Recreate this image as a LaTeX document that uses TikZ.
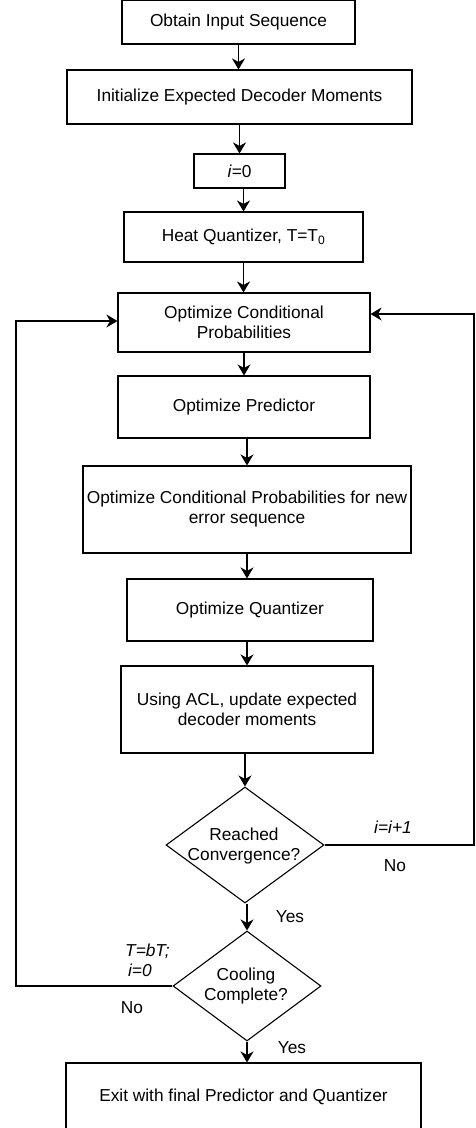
\documentclass[tikz,border=0pt]{standalone}
\usepackage{fontspec}
\setmainfont{Liberation Sans}
\usetikzlibrary{arrows.meta,shapes.geometric}
\newcommand\fsz{\fontsize{17.3}{20}\selectfont}
\begin{document}
\begin{tikzpicture}[x=1pt,y=-1pt,
  box/.style={draw, line width=1.1pt, rectangle, inner sep=0pt, align=center, font=\fsz},
  dia/.style={draw, diamond, line width=1.1pt, inner sep=0pt},
  lbl/.style={font=\fsz, inner sep=0pt, align=center},
  arr/.style={line width=1.1pt, -{Stealth[length=11pt,width=13pt,inset=3.5pt]}}]
\useasboundingbox (0,0) rectangle (475,1128);
\fill[white] (0,0) rectangle (475,1128);

\node[box, minimum width=233pt, minimum height=44pt] (b1) at (238.5,22) {Obtain Input Sequence};
\node[box, minimum width=345pt, minimum height=54pt] (b2) at (239.5,97) {Initialize Expected Decoder Moments};
\node[box, minimum width=91pt, minimum height=34pt] (b3) at (239.5,171) {\textit{i}=0};
\node[box, minimum width=239pt, minimum height=50pt] (b4) at (243.5,237) {Heat Quantizer, T=T\textsubscript{0}};
\node[box, minimum width=252pt, minimum height=59pt] (b5) at (244,322.5) {Optimize Conditional\\Probabilities};
\node[box, minimum width=252pt, minimum height=62pt] (b6) at (244,407) {Optimize Predictor};
\node[box, minimum width=328pt, minimum height=87pt] (b7) at (247,509.5) {Optimize Conditional Probabilities for new\\error sequence};
\node[box, minimum width=246pt, minimum height=62pt] (b8) at (250,610) {Optimize Quantizer};
\node[box, minimum width=252pt, minimum height=87pt] (b9) at (247,709.5) {Using ACL, update expected\\decoder moments};
\node[dia, minimum width=158pt, minimum height=116pt] (d1) at (245,845) {};
\node[lbl] (d1t) at (244,846) {Reached\\Convergence?};
\node[dia, minimum width=148pt, minimum height=110pt] (d2) at (247,986) {};
\node[lbl] (d2t) at (246,986) {Cooling\\Complete?};
\node[box, minimum width=355pt, minimum height=68pt] (b10) at (243.5,1097) {Exit with final Predictor and Quantizer};

\coordinate (rc) at (474,314);
\coordinate (lc) at (16,321);

\draw[arr] (b1.south) -- (b1.south |- b2.north);
\draw[arr] (b2.south) -- (b2.south |- b3.north);
\draw[arr] (b4.north |- b3.south) -- (b4.north);
\draw[arr] (b4.south) -- (b4.south |- b5.north);
\draw[arr] (b5.south) -- (b5.south |- b6.north);
\draw[arr] (b7.north |- b6.south) -- (b7.north);
\draw[arr] (b7.south) -- (b7.south |- b8.north);
\draw[arr] (b9.north |- b8.south) -- (b9.north);
\draw[arr] (d1.north |- b9.south) -- (d1.north);
\draw[arr] (d2.north |- d1.south) -- (d2.north);
\draw[arr] (d2.south) -- (d2.south |- b10.north);
\draw[arr] (d1.east) -| (rc) -- (b5.east |- rc);
\draw[arr] (d2.west) -| (lc) -- (b5.west |- lc);

\node[lbl, font=\fsz\itshape] (l1) at (393,827) {i=i+1};
\node[lbl] (l2) at (395,866) {No};
\node[lbl] (l3) at (290,917) {Yes};
\node[lbl, font=\fsz\itshape, align=left, anchor=west] (l4) at (125,960) {T=bT;\\\,i=0};
\node[lbl] (l5) at (132,1008) {No};
\node[lbl] (l6) at (292,1048) {Yes};
\end{tikzpicture}
\end{document}
